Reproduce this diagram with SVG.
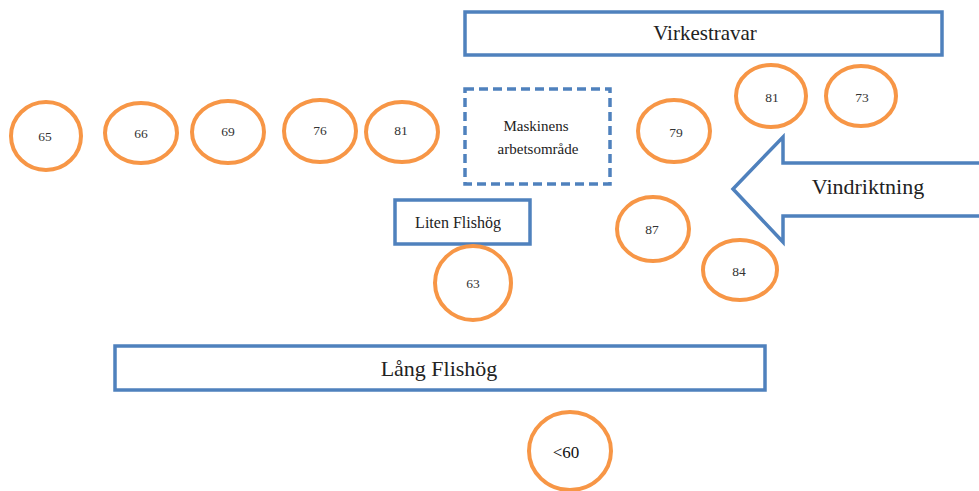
<svg xmlns="http://www.w3.org/2000/svg" width="979" height="491" viewBox="0 0 979 491">
<style>
.c{fill:#fff;stroke:#F79646;stroke-width:4}
.b{fill:#fff;stroke:#4F81BD;stroke-width:3.5}
.d{fill:#fff;stroke:#4F81BD;stroke-width:3.5;stroke-dasharray:9 5}
.n{font-family:"Liberation Serif",serif;font-size:13.5px;fill:#333;text-anchor:middle}
.t{font-family:"Liberation Serif",serif;fill:#222;text-anchor:middle}
</style>
<rect width="979" height="491" fill="#fff"/>
<g id="virkestravar"><rect class="b" x="465" y="12" width="477" height="43"/><text class="t" x="705" y="40" font-size="21">Virkestravar</text></g>
<g id="maskinens"><rect class="d" x="465" y="89" width="145" height="95"/><text class="t" x="536" y="131" font-size="15">Maskinens</text><text class="t" x="538" y="154" font-size="15">arbetsområde</text></g>
<g id="liten"><rect class="b" x="395" y="200" width="135" height="44"/><text class="t" x="458" y="228" font-size="16">Liten Flishög</text></g>
<g id="lang"><rect class="b" x="115" y="346" width="650" height="44"/><text class="t" x="439" y="376" font-size="22">Lång Flishög</text></g>
<g id="vindriktning"><polygon class="b" points="733,189 783,137 783,163 990,163 990,216 783,216 783,242"/><text class="t" x="868" y="194" font-size="22">Vindriktning</text></g>
<g id="c65"><ellipse class="c" cx="46" cy="136" rx="35" ry="34"/><text class="n" x="45" y="141">65</text></g>
<g id="c66"><ellipse class="c" cx="141" cy="133" rx="36" ry="30"/><text class="n" x="141" y="138">66</text></g>
<g id="c69"><ellipse class="c" cx="228" cy="132" rx="36" ry="31"/><text class="n" x="228" y="136">69</text></g>
<g id="c76"><ellipse class="c" cx="320" cy="131" rx="36" ry="31"/><text class="n" x="320" y="135">76</text></g>
<g id="c81a"><ellipse class="c" cx="402" cy="132" rx="36" ry="30"/><text class="n" x="401" y="135">81</text></g>
<g id="c79"><ellipse class="c" cx="674" cy="131" rx="36" ry="31"/><text class="n" x="676" y="137">79</text></g>
<g id="c81b"><ellipse class="c" cx="771" cy="96" rx="35" ry="31"/><text class="n" x="772" y="102">81</text></g>
<g id="c73"><ellipse class="c" cx="861" cy="96" rx="35" ry="30"/><text class="n" x="862" y="102">73</text></g>
<g id="c87"><ellipse class="c" cx="653" cy="229" rx="36" ry="32"/><text class="n" x="652" y="234">87</text></g>
<g id="c84"><ellipse class="c" cx="740" cy="270" rx="37" ry="30"/><text class="n" x="739" y="276">84</text></g>
<g id="c63"><ellipse class="c" cx="473" cy="283" rx="38" ry="37"/><text class="n" x="473" y="288">63</text></g>
<g id="c60"><ellipse class="c" cx="570" cy="451" rx="41" ry="39"/><text x="566" y="458" font-family="Liberation Serif, serif" font-size="17" fill="#111" text-anchor="middle">&lt;60</text></g>
<g id="connectors"/>
</svg>
